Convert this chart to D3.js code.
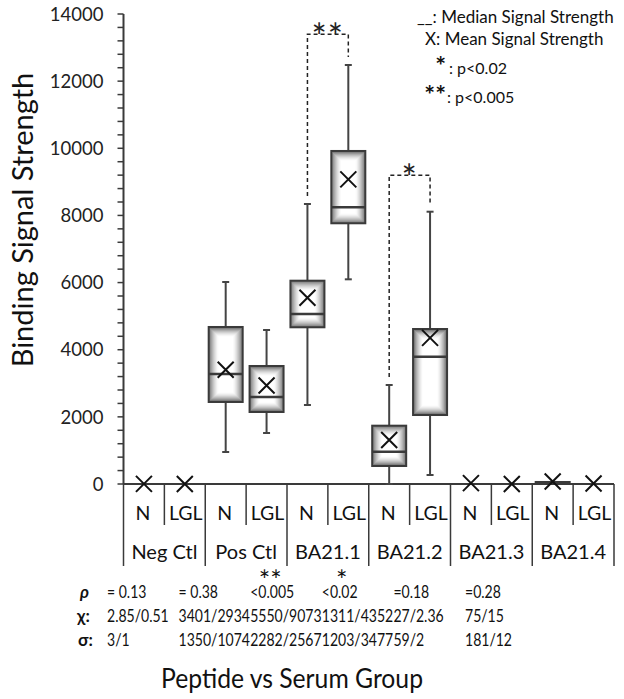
<!DOCTYPE html>
<html>
<head>
<meta charset="utf-8">
<script src="https://cdn.jsdelivr.net/npm/d3@7"></script>
<style>
  html, body { margin: 0; padding: 0; background: #fff; }
  svg { display: block; font-family: Lato, "Open Sans", sans-serif; }
</style>
</head>
<body>
<svg id="chart" width="624" height="699"></svg>
<script>
// ---------------- data ----------------
const groups = ["Neg Ctl", "Pos Ctl", "BA21.1", "BA21.2", "BA21.3", "BA21.4"];
const subgroups = ["N", "LGL"];
const whiskerLow  = [0, 0, 953, 1519, 2353, 6097, 0, 268, 0, 0, 0, 0];
const q1          = [0, 0, 2443, 2145, 4668, 7766, 536, 2055, 0, 0, 0, 0];
const median      = [0, 0, 3277, 2592, 5064, 8242, 962, 3792, 0, 0, 20, 0];
const q3          = [0, 0, 4677, 3515, 6056, 9920, 1737, 4617, 0, 0, 60, 0];
const whiskerHigh = [0, 0, 6017, 4587, 8341, 12481, 2949, 8111, 0, 0, 60, 0];
const means       = [2.85, 0.51, 3401, 2934, 5550, 9073, 1311, 4352, 27, 2.36, 75, 15];
const yTicks = [0, 2000, 4000, 6000, 8000, 10000, 12000, 14000];
// significance brackets: [group, top value, label]
const brackets = [["BA21.1", 13400, "**"], ["BA21.2", 9200, "*"]];
const pLabels    = ["= 0.13", "= 0.38", "<0.005", "<0.02", "=0.18", "=0.28"];
const meanLabels = ["2.85/0.51", "3401/2934", "5550/9073", "1311/4352", "27/2.36", "75/15"];
const sdLabels   = ["3/1", "1350/1074", "2282/2567", "1203/3477", "59/2", "181/12"];
const sigStars   = ["", "", "**", "*", "", ""];
const legendLines = ["__: Median Signal Strength", "X: Mean Signal Strength"];
const legendSig = [["*", ": p<0.02"], ["**", ": p<0.005"]];

// ---------------- layout ----------------
const svg = d3.select("#chart");
const X0 = 123.5, X1 = 614, Y0 = 484, Y1 = 14;
const cols = [];
groups.forEach(g => subgroups.forEach(s => cols.push(g + "|" + s)));
const x = d3.scaleBand().domain(cols).range([X0, X1]);
const xg = d3.scaleBand().domain(groups).range([X0, X1]);
const y = d3.scaleLinear().domain([0, 14000]).range([Y0, Y1]);
const ink = "#3a3a3a";

// ---------------- y axis ----------------
const minor = d3.range(0, 14001, 400);
const yAxis = svg.append("g").attr("transform", `translate(${X0},0)`);
yAxis.append("line").attr("x1", 0).attr("x2", 0).attr("y1", y(14000)).attr("y2", y(0))
  .attr("stroke", ink).attr("stroke-width", 2);
yAxis.selectAll("line.t").data(minor).join("line").attr("class", "t")
  .attr("x1", -6).attr("x2", 0).attr("y1", d => y(d)).attr("y2", d => y(d))
  .attr("stroke", ink).attr("stroke-width", 1.5);
yAxis.selectAll("text").data(yTicks).join("text")
  .attr("x", -20).attr("y", d => y(d)).attr("dy", "0.36em")
  .attr("text-anchor", "end").attr("font-size", 18.5).attr("fill", "#222")
  .text(d => d);

svg.append("text").attr("transform", "translate(33,220) rotate(-90)")
  .attr("text-anchor", "middle").attr("font-size", 29).attr("fill", "#111")
  .text("Binding Signal Strength");

// ---------------- x axis & category lines ----------------
svg.append("line").attr("x1", X0).attr("x2", X1).attr("y1", Y0).attr("y2", Y0)
  .attr("stroke", ink).attr("stroke-width", 2);
svg.selectAll("line.inner").data(groups).join("line").attr("class", "inner")
  .attr("x1", d => xg(d) + xg.bandwidth() / 2).attr("x2", d => xg(d) + xg.bandwidth() / 2)
  .attr("y1", Y0).attr("y2", 525).attr("stroke", ink).attr("stroke-width", 1.5);
const gEdges = groups.map(g => xg(g)).concat([X1]);
svg.selectAll("line.outer").data(gEdges).join("line").attr("class", "outer")
  .attr("x1", d => d).attr("x2", d => d)
  .attr("y1", Y0).attr("y2", 566).attr("stroke", ink).attr("stroke-width", 1.5);
svg.selectAll("text.sub").data(cols).join("text").attr("class", "sub")
  .attr("x", d => x(d) + x.bandwidth() / 2 + (d.endsWith("LGL") ? 1 : -1)).attr("y", 520)
  .attr("text-anchor", "middle").attr("font-size", 19.5).attr("fill", "#111")
  .text(d => d.split("|")[1]);
svg.selectAll("text.grp").data(groups).join("text").attr("class", "grp")
  .attr("x", d => xg(d) + xg.bandwidth() / 2).attr("y", 559)
  .attr("text-anchor", "middle").attr("font-size", 20).attr("fill", "#111")
  .text(d => d);

// ---------------- boxes ----------------
const boxW = 34;
const boxes = svg.append("g");
cols.forEach((c, i) => {
  const cx = x(c) + x.bandwidth() / 2;
  const g = boxes.append("g");
  if (whiskerHigh[i] > q3[i] || q1[i] > whiskerLow[i]) {
    g.append("line").attr("x1", cx).attr("x2", cx).attr("y1", y(whiskerHigh[i])).attr("y2", y(q3[i]))
      .attr("stroke", "#444").attr("stroke-width", 2);
    g.append("line").attr("x1", cx).attr("x2", cx).attr("y1", y(q1[i])).attr("y2", y(whiskerLow[i]))
      .attr("stroke", "#444").attr("stroke-width", 2);
    [whiskerHigh[i], whiskerLow[i]].forEach(v => {
      g.append("line").attr("x1", cx - 3.5).attr("x2", cx + 3.5).attr("y1", y(v)).attr("y2", y(v))
        .attr("stroke", "#444").attr("stroke-width", 2);
    });
  }
  const top = y(q3[i]), bot = y(q1[i]);
  const h = bot - top;
  if (h > 2) {
    const bx = cx - boxW / 2;
    g.append("rect").attr("x", bx).attr("y", top).attr("width", boxW).attr("height", h).attr("fill", "#fff");
    const depth = Math.min(10, h / 2 - 1);
    for (let k = 0; k < depth; k++) {
      const t = k / 10;
      g.append("rect").attr("x", bx + k + 0.5).attr("y", top + k + 0.5)
        .attr("width", boxW - 2 * k - 1).attr("height", h - 2 * k - 1)
        .attr("fill", "none").attr("stroke", "#000")
        .attr("stroke-opacity", 0.6 * Math.pow(1 - t, 1.7)).attr("stroke-width", 1);
    }
    g.append("rect").attr("x", bx).attr("y", top).attr("width", boxW).attr("height", h)
      .attr("fill", "none").attr("stroke", ink).attr("stroke-width", 2);
    g.append("line").attr("x1", bx).attr("x2", bx + boxW).attr("y1", y(median[i])).attr("y2", y(median[i]))
      .attr("stroke", ink).attr("stroke-width", 2.5);
  }
  const my = y(means[i]);
  const s = 8;
  g.append("path").attr("d", `M${cx - s},${my - s}L${cx + s},${my + s}M${cx - s},${my + s}L${cx + s},${my - s}`)
    .attr("stroke", "#111").attr("stroke-width", 2).attr("fill", "none");
});

// ---------------- significance brackets ----------------
brackets.forEach(([gname, topV, lab]) => {
  const gi = groups.indexOf(gname);
  const iN = gi * 2, iL = gi * 2 + 1;
  const xa = x(cols[iN]) + x.bandwidth() / 2, xb = x(cols[iL]) + x.bandwidth() / 2;
  const yt = y(topV);
  svg.append("path")
    .attr("d", `M${xa},${y(whiskerHigh[iN]) - 8}L${xa},${yt}L${xb},${yt}L${xb},${y(whiskerHigh[iL]) - 8}`)
    .attr("fill", "none").attr("stroke", "#222").attr("stroke-width", 1.5).attr("stroke-dasharray", "4,3");
  svg.append("text").attr("x", (xa + xb) / 2).attr("y", yt + 16)
    .attr("text-anchor", "middle").attr("font-size", 36).attr("fill", "#222")
    .attr("letter-spacing", 1).text(lab);
});

// ---------------- legend ----------------
const lg = svg.append("g").attr("font-size", 17).attr("fill", "#111");
lg.append("text").attr("x", 417).attr("y", 23).text(legendLines[0]);
lg.append("text").attr("x", 425).attr("y", 45).text(legendLines[1]);
legendSig.forEach(([st, tx], i) => {
  const by = 74 + i * 29;
  lg.append("text").attr("x", 446).attr("y", by + 1).attr("text-anchor", "end")
    .attr("font-size", 25.5).attr("font-weight", "bold").text(st);
  lg.append("text").attr("x", i === 0 ? 449 : 447).attr("y", by).attr("font-size", 16).text(tx);
});

// ---------------- table below ----------------
// horizontally condensed text (Calibri-like proportions)
const squeeze = 0.85;
const tcol = d3.scalePoint().domain(groups).range([107, 465]);
const tb = svg.append("g").attr("font-size", 16.5).attr("fill", "#111");
tb.selectAll("text.star").data(groups).join("text").attr("class", "star")
  .attr("x", g => tcol(g) + 20).attr("y", 590).attr("font-size", 27).attr("text-anchor", "middle")
  .text((g, i) => sigStars[i]);
[[pLabels, 598], [meanLabels, 622], [sdLabels, 646]].forEach(([arr, yy]) => {
  tb.selectAll(null).data(groups).join("text")
    .attr("transform", g => `translate(${tcol(g)},${yy}) scale(${squeeze},1)`)
    .text((g, i) => arr[i]);
});
svg.append("text").attr("x", 80).attr("y", 598).attr("font-size", 17).attr("font-weight", "bold")
  .attr("font-style", "italic").attr("fill", "#111").text("ρ");
svg.append("text").attr("x", 77).attr("y", 622).attr("font-size", 17).attr("font-weight", "bold")
  .attr("fill", "#111").text("χ:");
svg.append("text").attr("x", 78).attr("y", 646).attr("font-size", 17).attr("font-weight", "bold")
  .attr("fill", "#111").text("σ:");

svg.append("text").attr("x", 292).attr("y", 688).attr("text-anchor", "middle")
  .attr("font-size", 27).attr("textLength", 262).attr("lengthAdjust", "spacingAndGlyphs")
  .attr("fill", "#111").text("Peptide vs Serum Group");
</script>
</body>
</html>
